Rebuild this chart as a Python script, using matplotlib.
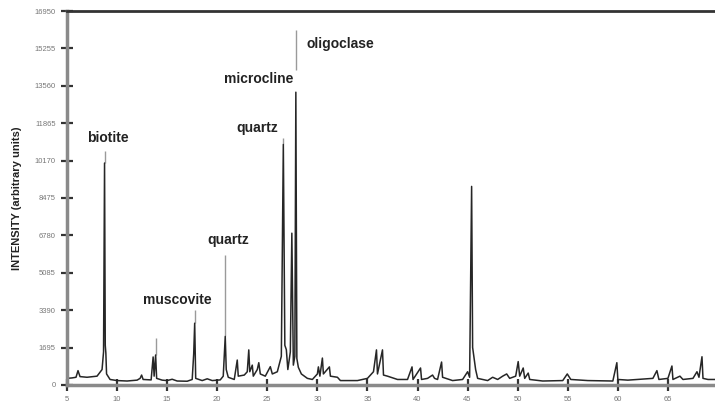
import matplotlib.pyplot as plt

# XRD trace (2-theta, intensity)
two_theta = [
    5.0, 5.5, 5.9, 6.1, 6.3, 7.0, 8.0, 8.5, 8.65, 8.75, 8.82, 8.88, 8.95, 9.3,
    10.0, 11.0, 12.0, 12.3, 12.45, 12.6, 13.4, 13.6, 13.7, 13.85, 13.95, 14.5,
    15.0, 15.5, 16.0, 17.0, 17.5, 17.65, 17.75, 17.85, 18.5, 19.0, 19.5,
    20.3, 20.6, 20.8, 20.9, 21.1, 21.7, 22.0, 22.1, 22.7, 23.0, 23.15, 23.25,
    23.5, 23.6, 24.0, 24.15, 24.3, 24.8, 25.3, 25.5, 26.0, 26.4, 26.6, 26.75,
    26.9, 27.05, 27.3, 27.45, 27.6, 27.75, 27.85, 27.95, 28.1, 28.4, 29.0,
    29.5, 30.0, 30.1, 30.25, 30.5, 30.6, 31.2, 31.3, 32.0, 32.3, 34.0, 35.0,
    35.6, 35.9, 36.0, 36.5, 36.6, 37.0, 38.0, 39.0, 39.45, 39.55, 40.3, 40.4,
    41.0, 41.5, 41.7, 42.0, 42.4, 42.5, 43.5, 44.5, 45.0, 45.2, 45.4, 45.5,
    45.8, 46.0, 47.0, 47.5, 48.0, 48.5, 48.9, 49.2, 49.8, 50.05, 50.2, 50.55,
    50.7, 51.05, 51.2, 52.5, 54.5, 54.95, 55.3, 57.0, 59.5, 59.9, 60.0, 61.0,
    62.0, 63.5, 63.9, 64.1, 65.0, 65.4, 65.5, 66.2, 66.5, 67.5, 67.9, 68.1,
    68.4, 68.5, 69.0, 69.7,
]
intensity = [
    300, 320, 350, 650, 380, 350, 400, 700, 1500, 10060, 1800, 1450, 500, 250,
    200, 180, 220, 300, 450, 250, 230, 1270, 400, 1360, 300, 220,
    200, 260, 180, 170, 250, 1400, 2800, 300, 200, 280, 200,
    230, 400, 2200, 700, 350, 250, 1130, 400, 450, 600, 1590, 600,
    900, 400, 700, 1010, 500, 400, 830, 500, 600, 1300, 10900, 1800,
    1600, 700, 1500, 6880, 900, 1300, 13270, 1200, 800, 500, 300,
    250, 500, 820, 400, 1220, 500, 820, 400, 350, 200, 200, 300,
    600, 1590, 500, 1590, 450, 400, 250, 250, 820, 250, 770, 250,
    300, 450, 300, 250, 1040, 350, 200, 250, 600, 350, 9000, 1700,
    700, 300, 200, 350, 250, 400, 500, 300, 400, 1060, 400, 770,
    300, 540, 250, 180, 200, 500, 250, 200, 180, 1010, 250, 220,
    250, 300, 650, 250, 300, 860, 250, 400, 250, 300, 600, 350,
    1280, 300, 250, 250,
]

# mineral labels and the grey leader lines under them
minerals = ["biotite", "muscovite", "quartz", "quartz", "microcline", "oligoclase"]
label_x = [9.05, 16.0, 21.15, 24.0, 24.1, 32.3]
label_y = [11190, 3850, 6570, 11650, 13870, 15450]
leader_x = [8.75, 17.75, 20.8, 26.6, 27.9, 13.9]
leader_lo = [10060, 2800, 2200, 10900, 14270, 1360]
leader_hi = [10600, 3400, 5900, 11200, 16090, 2130]

yticks = [0, 1695, 3390, 5085, 6780, 8475, 10170, 11865, 13560, 15255, 16950]
xticks = [5, 10, 15, 20, 25, 30, 35, 40, 45, 50, 55, 60, 65]

plt.rcParams['font.family'] = ['Liberation Sans', 'DejaVu Sans']

fig = plt.figure(figsize=(7.15, 4.03), dpi=100)
ax = fig.add_axes([0.0937, 0.0447, 0.9063, 0.928])

ax.vlines(leader_x, leader_lo, leader_hi, color='#9a9a9a', lw=1.0)
ax.plot(two_theta, intensity, color='#262626', lw=1.1)

for name, x, y in zip(minerals, label_x, label_y):
    ax.text(x, y, name, ha='center', va='center', fontsize=10, fontweight='bold', color='#222222')

ax.set_xlim(5, 69.7)
ax.set_ylim(0, 16950)
ax.set_xticks(xticks)
ax.set_yticks(yticks)
ax.set_xticklabels([str(t) for t in xticks])
ax.set_yticklabels([str(t) for t in yticks])
ax.tick_params(axis='both', direction='inout', length=8, width=1.6, color='#333333',
               labelsize=5.5, labelcolor='#777777', pad=4)

ax.set_ylabel('INTENSITY (arbitrary units)', fontsize=8, fontweight='bold', color='#222222', labelpad=9)

ax.spines['right'].set_visible(False)
ax.spines['top'].set_color('#333333')
ax.spines['top'].set_linewidth(2)
for side in ['left', 'bottom']:
    ax.spines[side].set_color('#8a8a8a')
    ax.spines[side].set_linewidth(2.5)

fig.savefig('out.png', dpi=100)
